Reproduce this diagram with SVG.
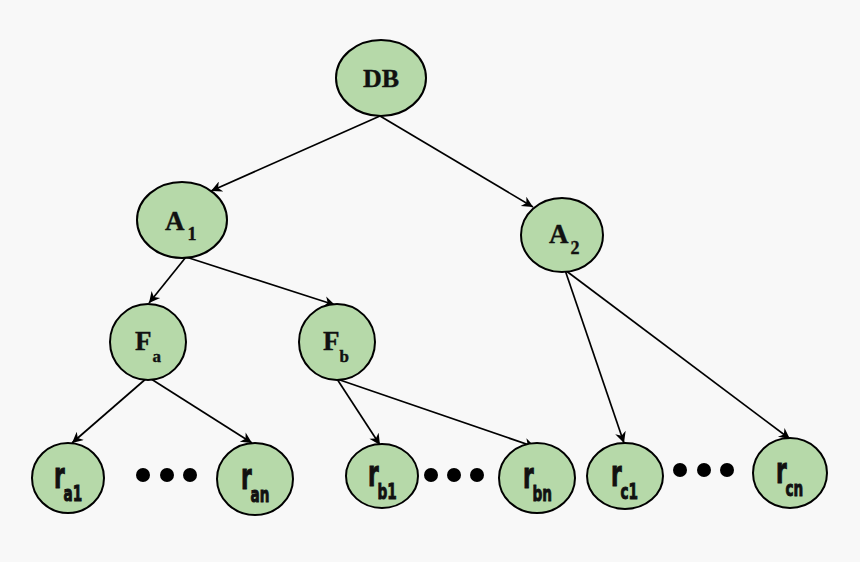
<svg xmlns="http://www.w3.org/2000/svg" width="860" height="562" viewBox="0 0 860 562">
<defs>
<style>
.node{fill:#b6d9a9;stroke:#000;stroke-width:2}
.edge{stroke:#000;stroke-width:1.7;fill:none}
.serif{font-family:"Liberation Serif","Times New Roman",serif;font-weight:bold;fill:#111;stroke:#111;stroke-width:0.4}
.cond{font-family:"DejaVu Sans","Liberation Sans",sans-serif;font-weight:bold;fill:#111;stroke:#111;stroke-width:1}
.dot{fill:#000}
</style>
<marker id="arr" viewBox="0 0 10 10" refX="10" refY="5" markerWidth="15" markerHeight="11" markerUnits="userSpaceOnUse" orient="auto">
<path d="M0,0 L10,5 L0,10 L3,5 Z" fill="#000"/>
</marker>
</defs>
<rect width="860" height="562" fill="#f8f8f8"/>
<g id="connectors">
<line class="edge" x1="380" y1="116" x2="211" y2="191" marker-end="url(#arr)"/>
<line class="edge" x1="380" y1="116" x2="533" y2="207" marker-end="url(#arr)"/>
<line class="edge" x1="186" y1="257" x2="149" y2="303" marker-end="url(#arr)"/>
<line class="edge" x1="186" y1="257" x2="335" y2="305" marker-end="url(#arr)"/>
<line class="edge" x1="148" y1="377" x2="72" y2="443" marker-end="url(#arr)"/>
<line class="edge" x1="148" y1="377" x2="252" y2="443" marker-end="url(#arr)"/>
<line class="edge" x1="337" y1="379" x2="380" y2="445" marker-end="url(#arr)"/>
<line class="edge" x1="337" y1="379" x2="535" y2="447" marker-end="url(#arr)"/>
<line class="edge" x1="565" y1="270" x2="624" y2="443" marker-end="url(#arr)"/>
<line class="edge" x1="565" y1="270" x2="790" y2="439" marker-end="url(#arr)"/>
</g>
<g id="DB">
<ellipse class="node" cx="381" cy="78" rx="45" ry="38"/>
<text class="serif" x="381" y="87" font-size="26" text-anchor="middle">DB</text>
</g>
<g id="A1">
<ellipse class="node" cx="182" cy="220" rx="45" ry="38"/>
<text class="serif" x="165" y="230" font-size="27">A<tspan font-size="18" dx="3" dy="10">1</tspan></text>
</g>
<g id="A2">
<ellipse class="node" cx="562" cy="235" rx="41" ry="37"/>
<text class="serif" x="549" y="243" font-size="27">A<tspan font-size="18" dx="2" dy="11">2</tspan></text>
</g>
<g id="Fa">
<ellipse class="node" cx="148" cy="342" rx="38" ry="38"/>
<text class="serif" x="135" y="350" font-size="27">F<tspan font-size="17" dx="1" dy="12">a</tspan></text>
</g>
<g id="Fb">
<ellipse class="node" cx="337" cy="342" rx="38" ry="38"/>
<text class="serif" x="323" y="350" font-size="27">F<tspan font-size="17" dx="0" dy="12">b</tspan></text>
</g>
<g id="ra1">
<ellipse class="node" cx="68" cy="478" rx="36" ry="35"/>
<text class="cond" transform="translate(54,488) scale(0.62,1)" font-size="35">r<tspan font-size="22" dx="-2" dy="13">a1</tspan></text>
</g>
<g id="ran">
<ellipse class="node" cx="255" cy="479" rx="38" ry="36"/>
<text class="cond" transform="translate(241,489) scale(0.62,1)" font-size="35">r<tspan font-size="22" dx="-2" dy="13">an</tspan></text>
</g>
<g id="rb1">
<ellipse class="node" cx="382" cy="476" rx="36" ry="32"/>
<text class="cond" transform="translate(368,486) scale(0.62,1)" font-size="35">r<tspan font-size="22" dx="-2" dy="13">b1</tspan></text>
</g>
<g id="rbn">
<ellipse class="node" cx="537" cy="478" rx="38" ry="35"/>
<text class="cond" transform="translate(523,488) scale(0.62,1)" font-size="35">r<tspan font-size="22" dx="-2" dy="13">bn</tspan></text>
</g>
<g id="rc1">
<ellipse class="node" cx="625" cy="476" rx="38" ry="33"/>
<text class="cond" transform="translate(611,486) scale(0.62,1)" font-size="35">r<tspan font-size="22" dx="-2" dy="13">c1</tspan></text>
</g>
<g id="rcn">
<ellipse class="node" cx="790" cy="473" rx="37" ry="35"/>
<text class="cond" transform="translate(776,483) scale(0.62,1)" font-size="35">r<tspan font-size="22" dx="-2" dy="13">cn</tspan></text>
</g>
<g id="dots">
<circle class="dot" cx="143" cy="475" r="7"/>
<circle class="dot" cx="167" cy="475" r="7"/>
<circle class="dot" cx="190" cy="475" r="7"/>
<circle class="dot" cx="431" cy="475" r="7"/>
<circle class="dot" cx="454" cy="475" r="7"/>
<circle class="dot" cx="477" cy="475" r="7"/>
<circle class="dot" cx="680" cy="470" r="7"/>
<circle class="dot" cx="704" cy="470" r="7"/>
<circle class="dot" cx="727" cy="470" r="7"/>
</g>
</svg>
